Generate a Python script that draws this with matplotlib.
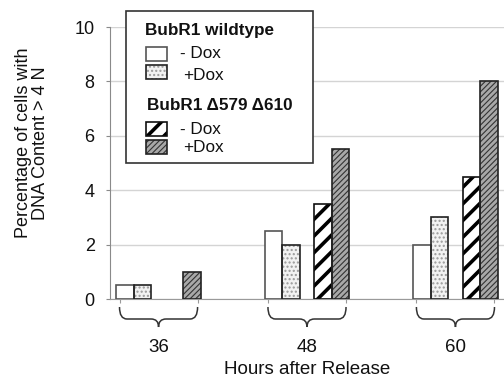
import matplotlib
matplotlib.use("Agg")
import matplotlib.pyplot as plt
from matplotlib.patches import Rectangle, PathPatch
from matplotlib.path import Path
import matplotlib.transforms as mtransforms
import numpy as np

plt.rcParams['font.family'] = ['Liberation Sans', 'DejaVu Sans']

# ---- data ----
hours = ['36', '48', '60']
wt_minus_dox = [0.5, 2.5, 2.0]
wt_plus_dox = [0.5, 2.0, 3.0]
mut_minus_dox = [0.0, 3.5, 4.5]
mut_plus_dox = [1.0, 5.5, 8.0]
yticks = [0, 2, 4, 6, 8, 10]
ylabel = 'Percentage of cells with\nDNA Content > 4 N'
xlabel = 'Hours after Release'
legend_header_wt = 'BubR1 wildtype'
legend_header_mut = 'BubR1 \u0394579 \u0394610'
legend_minus = '- Dox'
legend_plus = '+Dox'

W, H = 504, 388
fig = plt.figure(figsize=(W / 100, H / 100), dpi=100)

def fx(x):
    return x / W

def fy(y):
    return 1 - y / H

ax_left, ax_top, ax_right, ax_bottom = 110, 27, 504, 299
ax = fig.add_axes([fx(ax_left), fy(ax_bottom), (ax_right - ax_left) / W, (ax_bottom - ax_top) / H])

x = np.arange(len(hours))
w = 0.118
offsets = [-0.227, -0.109, 0.109, 0.227]

styles = [
    # values, face, hatch, hatchcolor, edge, hatch lw
    (wt_minus_dox, 'white', '', 'white', '#555555', 1.0),
    (wt_plus_dox, '#f2f2f2', '....', '#9a9a9a', '#222222', 1.0),
    (mut_minus_dox, 'white', '//', 'black', '#111111', 2.6),
    (mut_plus_dox, '#a8a8a8', '//////', '#333333', '#222222', 0.8),
]

for (vals, face, hatch, hcol, ecol, hlw), off in zip(styles, offsets):
    with plt.rc_context({'hatch.linewidth': hlw}):
        bars = ax.bar(x + off, vals, w, color=face, edgecolor=hcol, hatch=hatch,
                      linewidth=0, zorder=2)
        for b in bars:
            if hasattr(b, 'set_hatch_linewidth'):
                b.set_hatch_linewidth(hlw)
    ax.bar(x + off, vals, w, fill=False, edgecolor=ecol,
           linewidth=[1.2 if v > 0 else 0 for v in vals], zorder=3)

ax.set_xlim(-0.327, 2.327)
ax.set_ylim(0, 10)
ax.set_yticks(yticks)
ax.set_yticklabels([str(t) for t in yticks], fontsize=13)
ax.yaxis.grid(True, color='#d4d4d4', linewidth=1)
ax.set_axisbelow(True)
for s in ['top', 'right']:
    ax.spines[s].set_visible(False)
ax.spines['left'].set_color('#8a8a8a')
ax.spines['bottom'].set_color('#9a9a9a')
ax.tick_params(axis='y', length=3, color='#8a8a8a', pad=8, labelcolor='#111111')

# braces
hw = 0.263
ends = []
for c in x:
    ends += [c - hw, c + hw]
ax.set_xticks(ends)
ax.set_xticklabels([''] * len(ends))
ax.tick_params(axis='x', length=3, color='#9a9a9a')

trans = mtransforms.blended_transform_factory(ax.transData, ax.transAxes)
ax_h = ax_bottom - ax_top
y_top = -(307 - ax_bottom) / ax_h
y_mid = -(319 - ax_bottom) / ax_h
y_tip = -(327 - ax_bottom) / ax_h
r = 0.05
for c, lab in zip(x, hours):
    x0, x1 = c - hw, c + hw
    verts = [(x0, y_top), (x0, y_mid), (x0 + r, y_mid), (c - r, y_mid), (c, y_mid), (c, y_tip),
             (x1, y_top), (x1, y_mid), (x1 - r, y_mid), (c + r, y_mid), (c, y_mid), (c, y_tip)]
    codes = [Path.MOVETO, Path.CURVE3, Path.CURVE3, Path.LINETO, Path.CURVE3, Path.CURVE3] * 2
    ax.add_patch(PathPatch(Path(verts, codes), transform=trans, fill=False,
                           edgecolor='#333333', linewidth=1.1, clip_on=False))
    ax.text(c, -(348 - ax_bottom) / ax_h, lab, transform=trans, ha='center', va='center',
            fontsize=13.5, color='#111111')

fig.text(fx(307), fy(369), xlabel, ha='center', va='center', fontsize=13.5, color='#111111')
fig.text(fx(32), fy(143), ylabel, rotation=90, ha='center', va='center',
         multialignment='center', fontsize=13, color='#111111', linespacing=1.0)

# legend box
fig.add_artist(Rectangle((fx(126), fy(163)), (313 - 126) / W, (163 - 11) / H,
                         transform=fig.transFigure, facecolor='white',
                         edgecolor='#333333', linewidth=1.2, zorder=5))

def leg_patch(ytop, face, hatch, hcol, ecol, hlw):
    with plt.rc_context({'hatch.linewidth': hlw}):
        p = Rectangle((fx(146), fy(ytop + 14)), 21 / W, 14 / H, transform=fig.transFigure,
                      facecolor=face, edgecolor=hcol, hatch=hatch, linewidth=0, zorder=6)
        if hasattr(p, 'set_hatch_linewidth'):
            p.set_hatch_linewidth(hlw)
    fig.add_artist(p)
    fig.add_artist(Rectangle((fx(146), fy(ytop + 14)), 21 / W, 14 / H, transform=fig.transFigure,
                             fill=False, edgecolor=ecol, linewidth=1.2, zorder=7))

leg_tops = [47, 65, 122, 140]
for (vals, face, hatch, hcol, ecol, hlw), yt in zip(styles, leg_tops):
    leg_patch(yt, face, hatch, hcol, ecol, hlw)

fig.text(fx(145), fy(30), legend_header_wt, ha='left', va='center', fontsize=12.3,
         fontweight='bold', color='#111111', zorder=8)
fig.text(fx(147), fy(105), legend_header_mut, ha='left', va='center', fontsize=12.3,
         fontweight='bold', color='#111111', zorder=8)
fig.text(fx(180), fy(54), legend_minus, ha='left', va='center', fontsize=12.3, color='#111111', zorder=8)
fig.text(fx(183), fy(76), legend_plus, ha='left', va='center', fontsize=12.3, color='#111111', zorder=8)
fig.text(fx(180), fy(129), legend_minus, ha='left', va='center', fontsize=12.3, color='#111111', zorder=8)
fig.text(fx(183), fy(148), legend_plus, ha='left', va='center', fontsize=12.3, color='#111111', zorder=8)

fig.savefig('out.png', dpi=100)
